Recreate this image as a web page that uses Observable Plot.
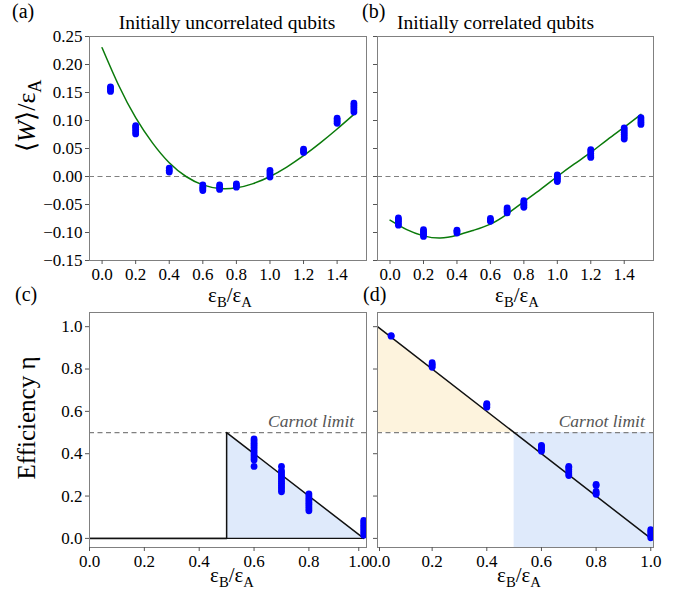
<!DOCTYPE html>
<html>
<head>
<meta charset="utf-8">
<script src="https://cdn.jsdelivr.net/npm/d3@7"></script>
<script src="https://cdn.jsdelivr.net/npm/@observablehq/plot@0.6"></script>
<style>
  html, body { margin: 0; padding: 0; background: white; }
  #chart { position: relative; width: 681px; height: 595px; background: white; }
  #chart svg { position: absolute; left: 0; top: 0; }
</style>
</head>
<body>
<div id="chart"></div>
<script>
// ---------- data ----------
const abTicksX = [0, 0.2, 0.4, 0.6, 0.8, 1.0, 1.2, 1.4];
const abTicksY = [-0.15, -0.10, -0.05, 0, 0.05, 0.10, 0.15, 0.20, 0.25];
const cdTicksX = [0, 0.2, 0.4, 0.6, 0.8, 1.0];
const cdTicksY = [0, 0.2, 0.4, 0.6, 0.8, 1.0];

// panel (a) measured points
const aX = [0.05, 0.2, 0.4, 0.6, 0.7, 0.8, 1.0, 1.2, 1.4, 1.5];
const aY = [
  [0.152, 0.155, 0.158, 0.160],
  [0.076, 0.080, 0.084, 0.088, 0.091],
  [0.008, 0.011, 0.015],
  [-0.015, -0.019, -0.022, -0.025],
  [-0.015, -0.019, -0.023],
  [-0.013, -0.016, -0.019],
  [-0.001, 0.003, 0.007, 0.011],
  [0.043, 0.046, 0.049],
  [0.095, 0.098, 0.101, 0.104],
  [0.115, 0.119, 0.123, 0.127, 0.131]
];
// panel (b) measured points
const bX = [0.05, 0.2, 0.4, 0.6, 0.7, 0.8, 1.0, 1.2, 1.4, 1.5];
const bY = [
  [-0.074, -0.077, -0.080, -0.084, -0.087],
  [-0.095, -0.098, -0.101, -0.104, -0.107],
  [-0.096, -0.098, -0.101],
  [-0.075, -0.078, -0.080],
  [-0.056, -0.059, -0.062, -0.065],
  [-0.043, -0.046, -0.049, -0.052, -0.055],
  [0.003, 0.000, -0.003, -0.006, -0.009],
  [0.048, 0.045, 0.041, 0.037, 0.034],
  [0.087, 0.083, 0.079, 0.075, 0.071, 0.067],
  [0.105, 0.101, 0.097, 0.093]
];
// theory curves (a), (b)
const curveX = [0, 0.1, 0.2, 0.3, 0.4, 0.5, 0.6, 0.7, 0.8, 0.9, 1.0, 1.1, 1.2, 1.3, 1.4, 1.5];
const curveA = [0.230, 0.162, 0.105, 0.060, 0.0245, 0.0, -0.015, -0.0213, -0.0202, -0.0127, 0.0, 0.0169, 0.0371, 0.060, 0.0848, 0.1109];
const curveB = [-0.078, -0.095, -0.106, -0.110, -0.105, -0.096, -0.085, -0.067, -0.045, -0.023, 0.0, 0.022, 0.043, 0.066, 0.088, 0.111];

// panel (c) efficiency points
const cX = [0.6, 0.7, 0.8, 1.0];
const cY = [
  [0.47, 0.46, 0.45, 0.44, 0.43, 0.42, 0.41, 0.40, 0.39, 0.38, 0.37, 0.34],
  [0.34, 0.32, 0.31, 0.30, 0.29, 0.28, 0.27, 0.26, 0.25, 0.24, 0.23, 0.22],
  [0.21, 0.20, 0.19, 0.18, 0.17, 0.16, 0.15, 0.14, 0.13],
  [0.085, 0.075, 0.065, 0.055, 0.045, 0.035, 0.025, 0.015]
];
// panel (d) efficiency points
const dX = [0.05, 0.2, 0.4, 0.6, 0.7, 0.8, 1.0];
const dY = [
  [0.955, 0.958],
  [0.808, 0.815, 0.822, 0.830],
  [0.620, 0.626, 0.632, 0.636],
  [0.412, 0.420, 0.428, 0.436, 0.439],
  [0.297, 0.305, 0.315, 0.325, 0.335, 0.340],
  [0.208, 0.215, 0.222, 0.250, 0.255],
  [0.003, 0.012, 0.022, 0.032, 0.041]
];
// efficiency theory lines
const engineCX = [0, 0.5, 0.5, 1.0];
const engineCY = [0, 0, 0.5, 0];
const engineDX = [0, 1.0];
const engineDY = [1.0, 0];
const carnot = 0.5;

const abXDomain = [-0.075, 1.575];
const abYDomain = [-0.15, 0.25];
const cdXDomain = [0, 1.01];
const cdYDomain = [-0.043, 1.067];

// ---------- helpers ----------
const toPoints = (xs, ys) => xs.flatMap((x, i) => ys[i].map(y => ({x, y})));
const toLine = (xs, ys) => xs.map((x, i) => ({x, y: ys[i]}));
const fmt2 = d => (d < 0 ? "\u2212" : "") + Math.abs(d).toFixed(2);
const fmt1 = d => (d < 0 ? "\u2212" : "") + Math.abs(d).toFixed(1);
const W = 681, H = 595;
const FONT = "'Liberation Serif', 'Times New Roman', serif";
const tickOpts = {tickSize: 4, tickPadding: 3, stroke: "#555", fill: "black", label: null, fontSize: 17};

function panel({frame, xDomain, yDomain, xAxes, yTicks, yFmt, marks}) {
  const [l, t, r, b] = frame;
  return Plot.plot({
    width: W, height: H,
    marginLeft: l, marginTop: t, marginRight: W - r, marginBottom: H - b,
    style: {background: "transparent", fontFamily: FONT, fontSize: "17px", overflow: "visible"},
    x: {domain: xDomain},
    y: {domain: yDomain},
    marks: [
      ...marks,
      Plot.frame({stroke: "#808080", strokeWidth: 1}),
      ...xAxes.map(a => Plot.axisX({...tickOpts, ...a})),
      Plot.axisY({...tickOpts, ticks: yTicks, tickFormat: yFmt})
    ]
  });
}

const dash = {stroke: "#808080", strokeDasharray: "5,3.5", strokeWidth: 1.2};
const dotStyle = {x: "x", y: "y", r: 3.4, fill: "#0000ff", stroke: "none", clip: true};
const green = {x: "x", y: "y", curve: "natural", stroke: "#0a7a0a", strokeWidth: 1.5};

const chart = document.getElementById("chart");

// (a)
chart.appendChild(panel({
  frame: [89, 36, 366, 260], xDomain: abXDomain, yDomain: abYDomain,
  xAxes: [{ticks: abTicksX, tickFormat: fmt1}], yTicks: abTicksY, yFmt: fmt2,
  marks: [
    Plot.ruleY([0], dash),
    Plot.line(toLine(curveX, curveA), green),
    Plot.dot(toPoints(aX, aY), dotStyle)
  ]
}));
// (b)
chart.appendChild(panel({
  frame: [377, 36, 653, 260], xDomain: abXDomain, yDomain: abYDomain,
  xAxes: [{ticks: abTicksX, tickFormat: fmt1}], yTicks: abTicksY, yFmt: () => "",
  marks: [
    Plot.ruleY([0], dash),
    Plot.line(toLine(curveX, curveB), green),
    Plot.dot(toPoints(bX, bY), dotStyle)
  ]
}));
// (c)
chart.appendChild(panel({
  frame: [89, 312, 366, 547], xDomain: cdXDomain, yDomain: cdYDomain,
  xAxes: [
    {ticks: cdTicksX.slice(0, -1), tickFormat: fmt1},
    {ticks: cdTicksX.slice(-1), tickFormat: fmt1, dx: -5}
  ],
  yTicks: cdTicksY, yFmt: fmt1,
  marks: [
    Plot.areaY(toLine(engineCX.slice(2), engineCY.slice(2)), {x: "x", y: "y", fill: "#dfeafb"}),
    Plot.ruleY([carnot], dash),
    Plot.text(["Carnot limit"], {x: 0.965, y: carnot, text: d => d, textAnchor: "end", lineAnchor: "bottom", dy: -6, fontStyle: "italic", fontSize: 17.5, fill: "#555"}),
    Plot.ruleY([0], {x1: cdXDomain[0], x2: 1.0, stroke: "#111", strokeWidth: 1.2}),
    Plot.line(toLine(engineCX, engineCY), {x: "x", y: "y", stroke: "#111", strokeWidth: 1.5}),
    Plot.dot(toPoints(cX, cY), dotStyle)
  ]
}));
// (d)
chart.appendChild(panel({
  frame: [377, 312, 653, 547], xDomain: cdXDomain, yDomain: cdYDomain,
  xAxes: [
    {ticks: cdTicksX.slice(0, 1), tickFormat: fmt1, dx: 2},
    {ticks: cdTicksX.slice(1), tickFormat: fmt1}
  ],
  yTicks: cdTicksY, yFmt: () => "",
  marks: [
    Plot.areaY([{x: 0, y: 1.0}, {x: carnot, y: carnot}], {x: "x", y1: carnot, y2: "y", fill: "#fdf3dd"}),
    Plot.rect([{x1: carnot, x2: cdXDomain[1], y1: cdYDomain[0], y2: carnot}], {x1: "x1", x2: "x2", y1: "y1", y2: "y2", fill: "#dfeafb"}),
    Plot.ruleY([carnot], dash),
    Plot.text(["Carnot limit"], {x: 0.978, y: carnot, text: d => d, textAnchor: "end", lineAnchor: "bottom", dy: -6, fontStyle: "italic", fontSize: 17.5, fill: "#555"}),
    Plot.line(toLine(engineDX, engineDY), {x: "x", y: "y", stroke: "#111", strokeWidth: 1.5}),
    Plot.dot(toPoints(dX, dY), dotStyle)
  ]
}));

// ---------- annotation overlay (titles, panel letters, axis labels) ----------
const svg = d3.select(chart).append("svg")
  .attr("width", W).attr("height", H)
  .style("font-family", FONT).style("pointer-events", "none");

function label(x, y, parts, size, opts = {}) {
  const t = svg.append("text")
    .attr("transform", `translate(${x},${y})` + (opts.rotate ? ` rotate(${opts.rotate})` : ""))
    .attr("text-anchor", opts.anchor || "start")
    .attr("font-size", size)
    .attr("fill", "black");
  for (const p of parts) {
    const s = t.append("tspan").text(p.t);
    if (p.italic) s.attr("font-style", "italic");
    if (p.sub) s.attr("font-size", size * 0.7).attr("dy", size * 0.22);
    if (p.unsub) s.attr("dy", -size * 0.22);
  }
  return t;
}
const epsLabel = [{t: "ε"}, {t: "B", sub: true}, {t: "/ε", unsub: true}, {t: "A", sub: true}];

label(12, 18, [{t: "(a)"}], 20);
label(362, 18, [{t: "(b)"}], 20);
label(15, 301, [{t: "(c)"}], 20);
label(363, 301, [{t: "(d)"}], 20);

label(227, 29, [{t: "Initially uncorrelated qubits"}], 19.5, {anchor: "middle"});
label(397, 29, [{t: "Initially correlated qubits"}], 19.5);

label(230, 302, epsLabel, 21, {anchor: "middle"});
label(517, 302, epsLabel, 21, {anchor: "middle"});
label(232, 582, epsLabel, 21, {anchor: "middle"});
label(519, 582, epsLabel, 21, {anchor: "middle"});

label(35, 116, [{t: "⟨"}, {t: "W", italic: true}, {t: "⟩/ε"}, {t: "A", sub: true}], 26, {anchor: "middle", rotate: -90});
label(35, 418, [{t: "Efficiency η"}], 25, {anchor: "middle", rotate: -90});
</script>
</body>
</html>
